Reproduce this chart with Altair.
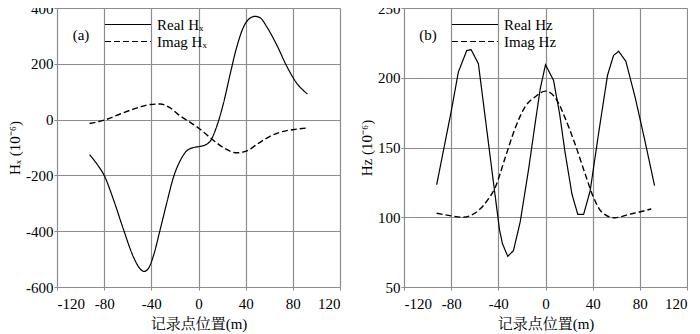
import altair as alt
import pandas as pd

# ---------------- data ----------------
x_ticks = [-120, -80, -40, 0, 40, 80, 120]
hx_ticks = [-600, -400, -200, 0, 200, 400]
hz_ticks = [50, 100, 150, 200, 250]

real_hx_x = [-92.4, -86, -80, -72, -63.6, -55, -49.5, -46, -42.4, -38.2, -32.5, -27, -21.2, -15.5,
             -10, -4.2, 1.4, 7, 10, 15.5, 21.2, 27, 32.5, 38.2, 43.8, 48, 52.3, 58, 66.4, 75, 83.4, 92.4]
real_hx_y = [-126, -160, -200, -288, -394, -494, -535, -544, -533, -488, -394, -300, -206, -147,
             -112, -100, -96, -88, -77, -24, 59, 166, 261, 332, 364, 370, 365, 332, 267, 190, 130, 92]

imag_hx_x = [-92.4, -80, -66, -52, -41, -32.5, -24, -15.5, -7, 0, 10, 21, 32.5, 41, 49.5, 61, 72, 82, 92.4]
imag_hx_y = [-14, -2, 21, 42, 54, 56, 42, 13, -10, -30, -65, -100, -119, -112, -89, -59, -42, -35, -30]

real_hz_x = [-92.3, -80, -73.9, -66.8, -63.1, -56.9, -50, -44, -39, -36.5, -32, -27.2, -21.5, -14.4,
             -9, -4.5, 0, 6.8, 12, 16.5, 22.4, 27.4, 32.3, 37.9, 45, 52.6, 57.7, 62, 68.2, 76, 84, 92.5]
real_hz_y = [123.3, 175.7, 204.1, 219.5, 220.2, 210, 164, 124, 91, 81, 72, 76, 96.5, 134,
             166, 192, 209.3, 198.2, 174, 147, 116.7, 102, 102, 119, 160, 201.8, 216, 219, 211.7, 186, 156, 122.6]

imag_hz_x = [-92.3, -80, -69.6, -57, -48.4, -42.7, -34.2, -25.7, -17.2, -8.7, 0, 9.6, 16.7, 25.2,
             33.7, 40.7, 47.8, 58.6, 70.5, 79, 89.7]
imag_hz_y = [102.9, 101, 100, 104.8, 113.1, 121.3, 142.6, 163.9, 179.3, 186.4, 190.4, 184, 171, 152.1,
             130.9, 114.3, 103.6, 99.6, 102, 103.6, 106]

SERIF = "Liberation Serif"
CJK = "Liberation Serif, Noto Serif CJK SC, Noto Sans CJK SC"
GRID = "#8c8c8c"


def make_df(xs, ys, name):
    return pd.DataFrame({"x": xs, "y": ys, "series": name})


def panel(real_x, real_y, imag_x, imag_y, real_name, imag_name, ydom, yticks, ytitle,
          tag, real_interp):
    df = pd.concat([make_df(real_x, real_y, real_name), make_df(imag_x, imag_y, imag_name)])
    xenc = alt.X("x:Q", scale=alt.Scale(domain=[-120, 120], nice=False, zero=False),
                 axis=alt.Axis(values=x_ticks, title="记录点位置(m)", grid=True, gridColor=GRID,
                               gridWidth=1.2, domain=False, tickColor=GRID, tickSize=3,
                               labelExpr="toString(datum.value)",
                               labelFont=SERIF, labelFontSize=15, labelColor="black",
                               labelPadding=6, titleFont=CJK, titleFontSize=15,
                               titleFontWeight="normal", titleColor="black", titlePadding=5))
    yenc = alt.Y("y:Q", scale=alt.Scale(domain=ydom, nice=False, zero=False),
                 axis=alt.Axis(values=yticks, title=ytitle, grid=True, gridColor=GRID,
                               gridWidth=1.2, domain=False, tickColor=GRID, tickSize=3,
                               labelExpr="toString(datum.value)",
                               labelFont=SERIF, labelFontSize=15, labelColor="black",
                               labelPadding=1, titleFont=SERIF, titleFontSize=15,
                               titleFontWeight="normal", titleColor="black", titlePadding=3))
    dash = alt.StrokeDash("series:N",
                          scale=alt.Scale(domain=[real_name, imag_name], range=[[1, 0], [6, 3]]),
                          legend=alt.Legend(orient="none", legendX=47, legendY=9, title=None,
                                            symbolType="stroke", symbolSize=2116,
                                            symbolStrokeWidth=1.2, symbolStrokeColor="black",
                                            labelFont=SERIF, labelFontSize=15, labelColor="black",
                                            labelOffset=5, rowPadding=1, clipHeight=15, padding=0))
    real = alt.Chart(df).transform_filter(alt.datum.series == real_name).mark_line(
        color="black", strokeWidth=1.2, interpolate=real_interp).encode(x=xenc, y=yenc, strokeDash=dash)
    imag = alt.Chart(df).transform_filter(alt.datum.series == imag_name).mark_line(
        color="black", strokeWidth=1.4, interpolate="monotone").encode(x=xenc, y=yenc, strokeDash=dash)
    label = alt.Chart(pd.DataFrame({"t": [tag]})).mark_text(
        font=SERIF, fontSize=15, color="black").encode(
        text="t:N", x=alt.value(24), y=alt.value(27))
    return alt.layer(real, imag, label).properties(width=283, height=279)


left = panel(real_hx_x, real_hx_y, imag_hx_x, imag_hx_y, "Real Hₓ", "Imag Hₓ",
             [-600, 400], hx_ticks, "Hₓ (10⁻⁶)", "(a)", "monotone")
right = panel(real_hz_x, real_hz_y, imag_hz_x, imag_hz_y, "Real Hz", "Imag Hz",
              [50, 250], hz_ticks, "Hz (10⁻⁶)", "(b)", "linear")

chart = alt.hconcat(left, right, spacing=18).resolve_scale(strokeDash="independent").properties(
    padding={"left": -1, "top": -8, "right": 0, "bottom": 0}
).configure_view(stroke=GRID, strokeWidth=1.2).configure(background="white")

chart.save("out.html", embed_options={"renderer": "svg", "actions": False})
